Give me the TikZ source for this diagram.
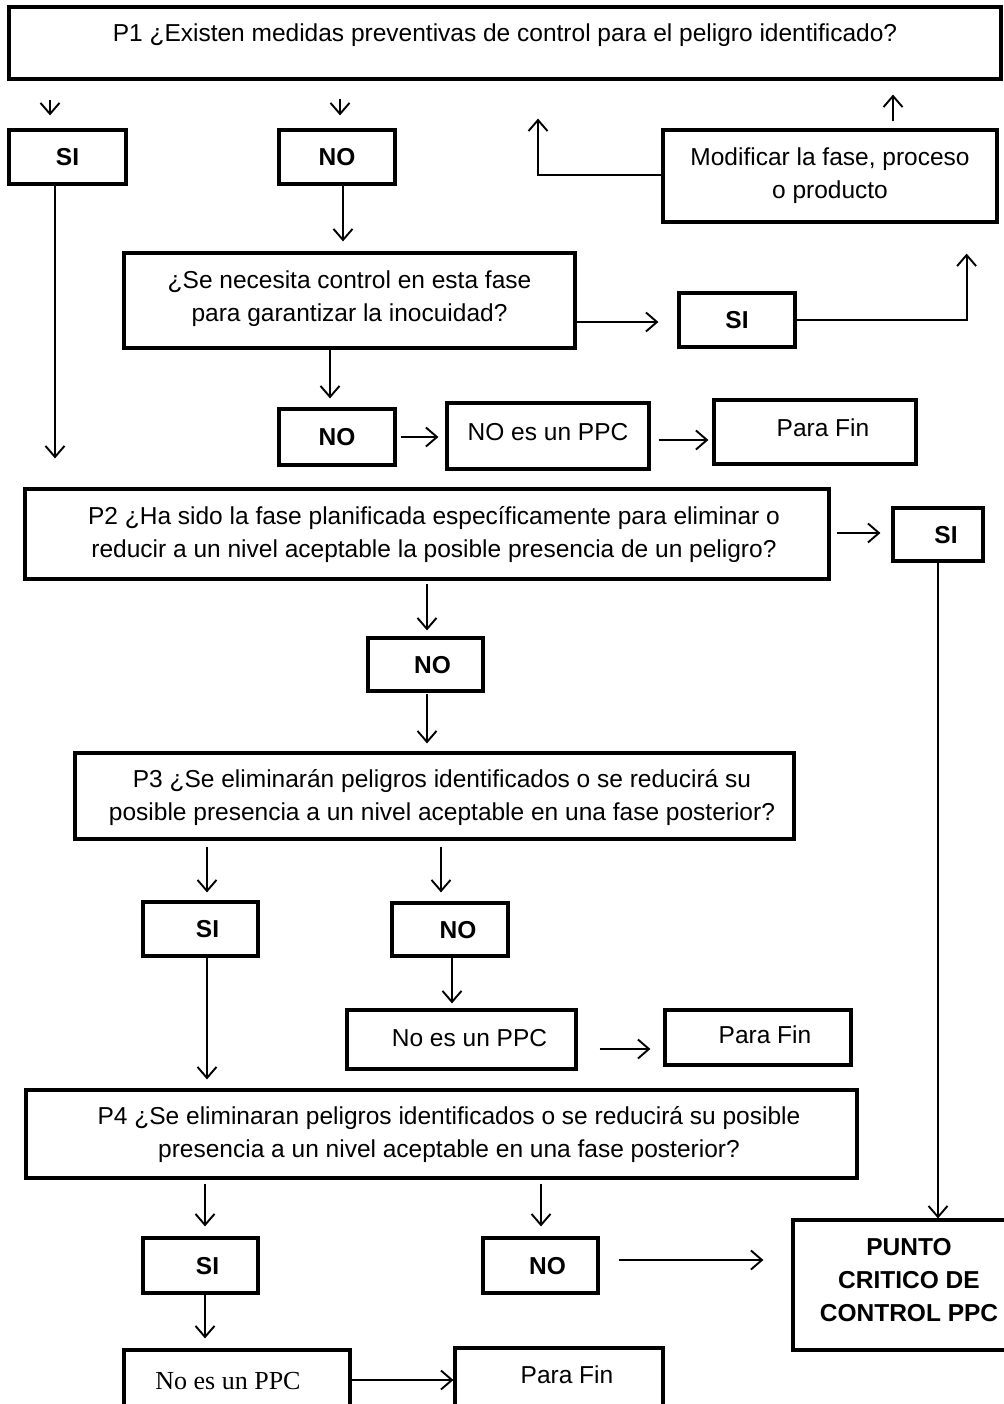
\documentclass[tikz,border=0pt]{standalone}
\usepackage{fontspec}
\setmainfont{Liberation Sans}
\newfontfamily\timesfont{Liberation Serif}
\usetikzlibrary{arrows.meta,calc}

% box text: #1 = horizontal offset, #2 = vertical offset (up), #3 = lines
\newcommand{\bx}[3]{\raisebox{\dimexpr#2pt-8.3pt\relax}[0pt][0pt]{\hspace*{\dimexpr#1pt*2\relax}\begin{tabular}{@{}c@{}}#3\end{tabular}}}

\tikzset{
  box/.style={draw, line width=3.2pt, inner sep=0pt, fill=white,
              font=\fontsize{24.5}{33}\selectfont},
  ans/.style={box, font=\fontsize{24.5}{33}\selectfont\bfseries},
  dims/.style 2 args={minimum width=#1pt, minimum height=#2pt},
  arr/.style={line width=1.9pt, -{Straight Barb[length=11pt,width=19pt]}},
}

\begin{document}
\begin{tikzpicture}[x=1pt, y=-1pt]
\useasboundingbox (0,0) rectangle (1003,1404);
\fill[white] (0,0) rectangle (1003,1404);

% questions and answers
\node[box,dims={992}{72}] (p1) at (505,43) {\bx{0}{10}{P1 ¿Existen medidas preventivas de control para el peligro identificado?}};
\node[ans,dims={117}{54}] (si1) at (67.5,157) {\bx{0}{0}{SI}};
\node[ans,dims={116}{54}] (no1) at (337,157) {\bx{0}{0}{NO}};
\node[box,dims={451}{95}] (q) at (349.5,300.5) {\bx{0}{4.5}{¿Se necesita control en esta fase\\para garantizar la inocuidad?}};
\node[box,dims={334}{92}] (mod) at (830,176) {\bx{0}{2.5}{Modificar la fase, proceso\\o producto}};
\node[ans,dims={116}{54}] (si2) at (737,320) {\bx{0}{0}{SI}};
\node[ans,dims={116}{56}] (no2) at (337,437) {\bx{0}{0}{NO}};
\node[box,dims={202}{66}] (nep1) at (548,436) {\bx{0}{4}{NO es un PPC}};
\node[box,dims={202}{64}] (fin1) at (815,432) {\bx{8}{4}{Para Fin}};

\node[box,dims={804}{90}] (p2) at (427,534) {\bx{7}{1.5}{P2 ¿Ha sido la fase planificada específicamente para eliminar o\\reducir a un nivel aceptable la posible presencia de un peligro?}};
\node[ans,dims={90}{53}] (si3) at (938,534.5) {\bx{8}{0}{SI}};
\node[ans,dims={115}{53}] (no3) at (425.5,664.5) {\bx{7}{0}{NO}};

\node[box,dims={719}{86}] (p3) at (434.5,796) {\bx{7.5}{0.5}{P3 ¿Se eliminarán peligros identificados o se reducirá su\\posible presencia a un nivel aceptable en una fase posterior?}};
\node[ans,dims={115}{54}] (si4) at (200.5,929) {\bx{7}{0}{SI}};
\node[ans,dims={116}{53}] (no4) at (450,929.5) {\bx{8}{0}{NO}};
\node[box,dims={229}{59}] (nep2) at (461.5,1039.5) {\bx{8}{1.5}{No es un PPC}};
\node[box,dims={186}{55}] (fin2) at (758,1037.5) {\bx{7}{2.5}{Para Fin}};

\node[box,dims={831}{88}] (p4) at (441.5,1134) {\bx{7.5}{1.5}{P4 ¿Se eliminaran peligros identificados o se reducirá su posible\\presencia a un nivel aceptable en una fase posterior?}};
\node[ans,dims={115}{55}] (si5) at (200.5,1265.5) {\bx{7}{0}{SI}};
\node[ans,dims={115}{55}] (no5) at (540.5,1265.5) {\bx{7}{0}{NO}};
\node[ans,dims={232}{130}] (ppc) at (909,1285) {\bx{0}{5}{PUNTO\\CRITICO DE\\CONTROL PPC}};
\node[box,dims={226}{65},font=\timesfont\fontsize{26}{33}\selectfont] (nep3) at (237,1382.5) {\bx{-9}{1.5}{No es un PPC}};
\node[box,dims={208}{67}] (fin3) at (559,1381.5) {\bx{8}{6.5}{Para Fin}};

% connectors
\draw[arr] ($(p1.south -| si1.north)+(-17.5,19)$) -- ($(si1.north)+(-17.5,-13)$);
\draw[arr] ($(p1.south -| no1.north)+(3,18)$) -- ($(no1.north)+(3,-13)$);
\draw[arr] ($(si1.south)+(-12.5,0)$) -- ($(p2.north -| si1.south)+(-12.5,-29)$);
\draw[arr] ($(no1.south)+(6,0)$) -- ($(q.north -| no1.south)+(6,-10)$);
\draw[arr] ($(q.east |- si2.west)+(0,2)$) -- ($(si2.west)+(-19,2)$);
\draw[arr] (si2.east) -| ($(mod.south east)+(-32,30)$);
\draw[arr] ($(mod.north)+(63,-7)$) -- ($(p1.south -| mod.north)+(63,14)$);
\draw[arr] ($(mod.west)+(0,-1)$) -| ($(p1.south)+(33,38)$);
\draw[arr] ($(q.south)+(-19.5,0)$) -- ($(no2.north -| q.south)+(-19.5,-9)$);
\draw[arr] ($(no2.east)+(4,0)$) -- ($(nep1.west |- no2.east)+(-7,0)$);
\draw[arr] ($(nep1.east)+(8,4)$) -- ($(fin1.west |- nep1.east)+(-4,4)$);
\draw[arr] ($(p2.east)+(6,-1)$) -- ($(si3.west |- p2.east)+(-11,-1)$);
\draw[arr] (si3.south) -- (si3.south |- ppc.north);
\draw[arr] ($(p2.south)+(0,3)$) -- ($(no3.north -| p2.south)+(0,-6)$);
\draw[arr] ($(no3.south)+(1.5,1)$) -- ($(p3.north -| no3.south)+(1.5,-8)$);
\draw[arr] ($(p3.south -| si4.north)+(6.5,6)$) -- ($(si4.north)+(6.5,-8)$);
\draw[arr] ($(p3.south -| no4.north)+(-9,6)$) -- ($(no4.north)+(-9,-9)$);
\draw[arr] ($(no4.south)+(2,0)$) -- ($(nep2.north -| no4.south)+(2,-5)$);
\draw[arr] ($(nep2.east)+(22,9.5)$) -- ($(fin2.west |- nep2.east)+(-13,9.5)$);
\draw[arr] ($(si4.south)+(6.5,0)$) -- ($(p4.north -| si4.south)+(6.5,-9)$);
\draw[arr] ($(p4.south -| si5.north)+(4.5,4)$) -- ($(si5.north)+(4.5,-10)$);
\draw[arr] ($(p4.south -| no5.north)+(0.5,4)$) -- ($(no5.north)+(0.5,-10)$);
\draw[arr] ($(no5.east)+(19,-5.5)$) -- ($(ppc.west |- no5.east)+(-28,-5.5)$);
\draw[arr] ($(si5.south)+(4.5,0)$) -- ($(nep3.north -| si5.south)+(4.5,-10)$);
\draw[arr] ($(nep3.east)+(0,-2.5)$) -- ($(fin3.west |- nep3.east)+(0,-2.5)$);
\end{tikzpicture}
\end{document}
